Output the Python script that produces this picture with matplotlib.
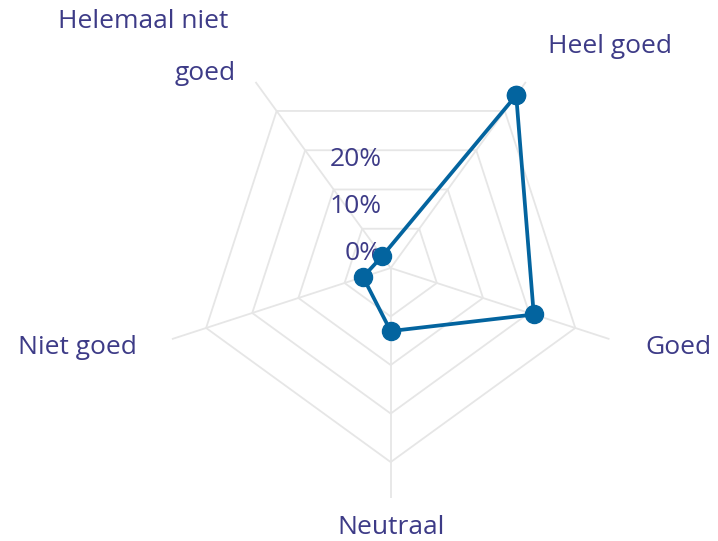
import numpy as np
import matplotlib
matplotlib.use("Agg")
import matplotlib.pyplot as plt

# answer categories, clockwise from top-right
categories = ["Heel goed", "Goed", "Neutraal", "Niet goed", "Helemaal niet\ngoed"]
values = [44, 31, 13, 6, 3]          # percent
ring_levels = [10, 20, 30, 40]
tick_values = [0, 10, 20]
tick_labels = ["0%", "10%", "20%"]

r_max = 47.4
text_color = "#3d3b87"
line_color = "#03649f"
grid_color = "#e6e6e6"

plt.rcParams["font.family"] = ["Open Sans", "DejaVu Sans"]

W, H = 718, 541
fig = plt.figure(figsize=(W / 100, H / 100), dpi=100)
cx, cy, rad = 390.7, 268, 230
ax = fig.add_axes([(cx - rad) / W, (H - cy - rad) / H, 2 * rad / W, 2 * rad / H],
                  projection="polar")
ax.set_theta_zero_location("N")
ax.set_theta_direction(-1)
ax.set_ylim(0, r_max)
ax.grid(False)
ax.set_xticks([])
ax.set_yticks([])
ax.spines["polar"].set_visible(False)
ax.patch.set_alpha(0)

n = len(categories)
angles = np.deg2rad(36 + 72 * np.arange(n))

# polygon grid rings
for lvl in ring_levels:
    a = np.append(angles, angles[0])
    ax.plot(a, [lvl] * len(a), color=grid_color, lw=1.3, zorder=1)
# spokes
for a in angles:
    ax.plot([a, a], [0, r_max], color=grid_color, lw=1.3, zorder=1)

# data
a = np.append(angles, angles[0])
v = np.append(values, values[0])
ax.plot(a, v, color=line_color, lw=2.7, marker="o", markersize=13, zorder=3,
        clip_on=False)

# radial labels (placed just above-left of each level on the upward direction)
for t, lab in zip(tick_values, tick_labels):
    ax.annotate(lab, xy=(0, t), xytext=(-9, 15 - 0.2 * t),
                textcoords="offset pixels", ha="right", va="center",
                fontsize=19, color=text_color, zorder=2)

# category labels, offsets in pixels from spoke end, one entry per text line
offsets = [[(22, 35)], [(36, -8)], [(0, -30)], [(-35, -8)],
           [(-27, 60), (-20, 8)]]
aligns = ["left", "left", "center", "right", "right"]
for ang, lab, offs, ha in zip(angles, categories, offsets, aligns):
    for line, (dx, dy) in zip(lab.split("\n"), offs):
        ax.annotate(line, xy=(ang, r_max), xytext=(dx, dy),
                    textcoords="offset pixels", ha=ha, va="center",
                    fontsize=19, color=text_color, annotation_clip=False)

fig.savefig("out.png", dpi=100)
